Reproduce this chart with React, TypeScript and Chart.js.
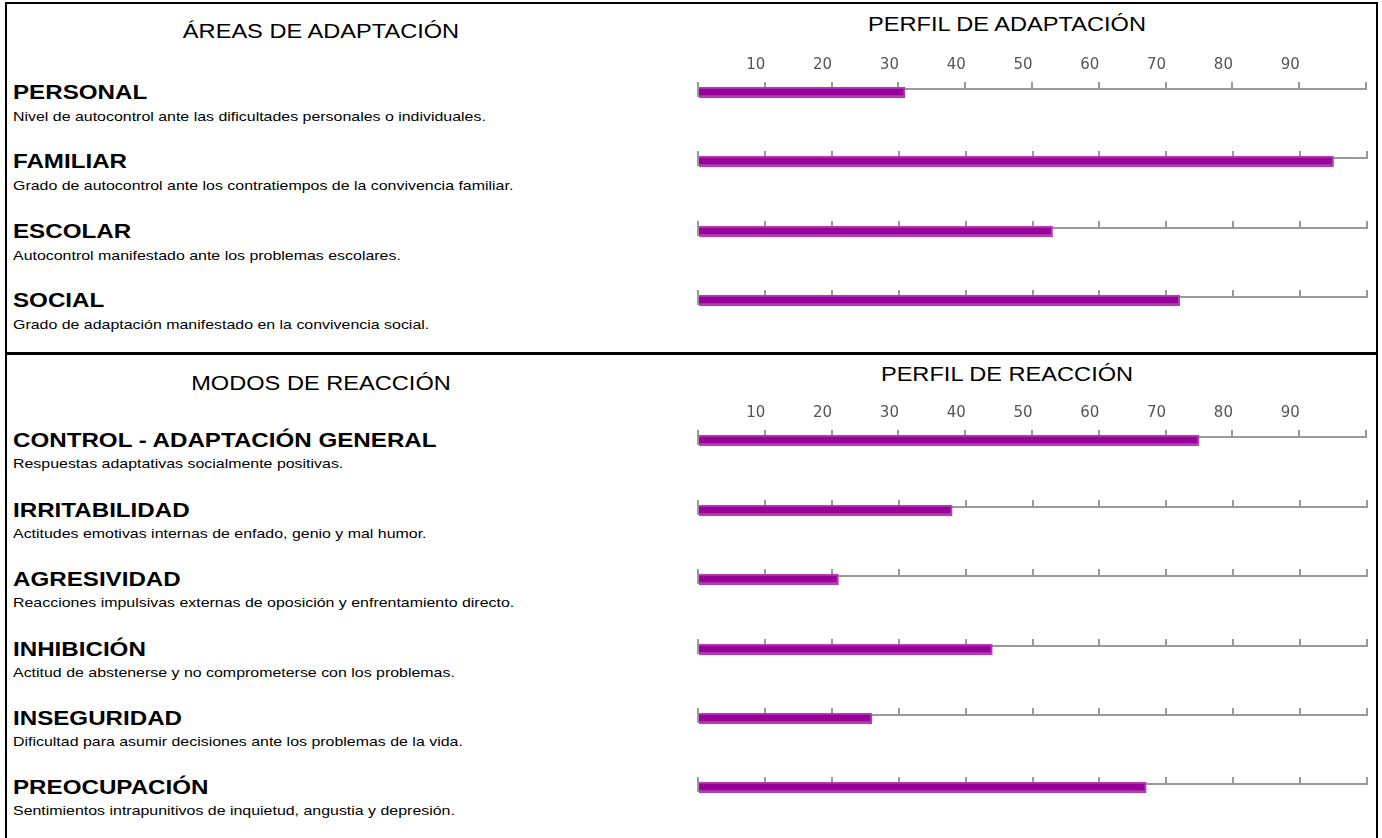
import React, { useEffect, useRef } from 'react';
import { Chart, registerables } from 'chart.js';

Chart.register(...registerables);

// ---------- data ----------
const adaptationTitle = 'ÁREAS DE ADAPTACIÓN';
const adaptationProfileTitle = 'PERFIL DE ADAPTACIÓN';
const adaptationAreas = ['PERSONAL', 'FAMILIAR', 'ESCOLAR', 'SOCIAL'];
const adaptationDescriptions = [
  'Nivel de autocontrol ante las dificultades personales o individuales.',
  'Grado de autocontrol ante los contratiempos de la convivencia familiar.',
  'Autocontrol manifestado ante los problemas escolares.',
  'Grado de adaptación manifestado en la convivencia social.',
];
const adaptationScores = [31, 95, 53, 72];

const reactionTitle = 'MODOS DE REACCIÓN';
const reactionProfileTitle = 'PERFIL DE REACCIÓN';
const reactionModes = [
  'CONTROL - ADAPTACIÓN GENERAL',
  'IRRITABILIDAD',
  'AGRESIVIDAD',
  'INHIBICIÓN',
  'INSEGURIDAD',
  'PREOCUPACIÓN',
];
const reactionDescriptions = [
  'Respuestas adaptativas socialmente positivas.',
  'Actitudes emotivas internas de enfado, genio y mal humor.',
  'Reacciones impulsivas externas de oposición y enfrentamiento directo.',
  'Actitud de abstenerse y no comprometerse con los problemas.',
  'Dificultad para asumir decisiones ante los problemas de la vida.',
  'Sentimientos intrapunitivos de inquietud, angustia y depresión.',
];
const reactionScores = [75, 38, 21, 44, 26, 67];

const scaleMin = 0;
const scaleMax = 100;
const scaleStep = 10;
const unlabeledTicks = [0, 100];

// ---------- layout ----------
const adaptationLines = [89, 158, 228, 297];
const reactionLines = [437, 507, 576, 646, 715, 784];

const CANVAS_LEFT = 688;
const CANVAS_W = 686;
const PAD_L = 10;
const PAD_R = 7;
const PAD_T = 2;
const PAD_B = 5;
const TICK_LEN = 7;
const AREA_H = 7;
const LABEL_AXIS_H = 40;

const FONT = '"Liberation Sans", Arial, Helvetica, sans-serif';

type TxtProps = {
  x: number;
  baseline: number;
  size: number;
  bold?: boolean;
  sx: number;
  center?: boolean;
  children: React.ReactNode;
};

function Txt({ x, baseline, size, bold, sx, center, children }: TxtProps) {
  const top = baseline - 0.8465 * size;
  return (
    <div
      style={{
        position: 'absolute',
        left: x,
        top,
        fontFamily: FONT,
        fontSize: size,
        lineHeight: `${size}px`,
        fontWeight: bold ? 700 : 400,
        whiteSpace: 'nowrap',
        color: '#000',
        transform: center ? `translateX(-50%) scaleX(${sx})` : `scaleX(${sx})`,
        transformOrigin: center ? 'center center' : 'left center',
      }}
    >
      {children}
    </div>
  );
}

type RowProps = { label: string; value: number; lineY: number; showTicks: boolean };

function RowChart({ label, value, lineY, showTicks }: RowProps) {
  const ref = useRef<HTMLCanvasElement>(null);
  const axisH = showTicks ? LABEL_AXIS_H : TICK_LEN;
  const height = PAD_T + axisH + AREA_H + PAD_B;
  const top = lineY - PAD_T - axisH;

  useEffect(() => {
    if (!ref.current) return;
    const chart = new Chart(ref.current, {
      type: 'bar',
      data: {
        labels: [label],
        datasets: [
          {
            data: [value],
            backgroundColor: '#990099',
            borderColor: '#b040b0',
            borderWidth: { top: 2, right: 2, bottom: 3, left: 0 },
            borderSkipped: 'start',
            barThickness: 11,
            clip: false,
          } as any,
        ],
      },
      options: {
        indexAxis: 'y',
        animation: false,
        responsive: false,
        devicePixelRatio: 1,
        events: [],
        layout: { padding: { left: PAD_L, right: PAD_R, top: PAD_T, bottom: PAD_B } },
        plugins: { legend: { display: false }, tooltip: { enabled: false }, title: { display: false } },
        scales: {
          x: {
            type: 'linear',
            position: 'top',
            min: scaleMin,
            max: scaleMax,
            ticks: {
              stepSize: scaleStep,
              display: showTicks,
              padding: 8,
              labelOffset: -9,
              color: '#555',
              autoSkip: false,
              maxRotation: 0,
              font: { family: '"DejaVu Sans"', size: 15 },
              callback: (v: any) => (unlabeledTicks.includes(Number(v)) ? '' : String(v)),
            },
            grid: {
              display: true,
              drawOnChartArea: false,
              drawTicks: true,
              tickLength: TICK_LEN,
              color: '#999',
              lineWidth: 2,
            },
            border: { display: true, color: '#999', width: 2 },
            afterFit: (s: any) => {
              s.height = axisH;
            },
          },
          y: {
            display: true,
            ticks: { display: false },
            grid: { display: false, drawTicks: false },
            border: { display: true, color: '#999', width: 2 },
          },
        },
      } as any,
    });
    return () => chart.destroy();
  }, [label, value, showTicks, axisH]);

  return (
    <canvas
      ref={ref}
      width={CANVAS_W}
      height={height}
      style={{ position: 'absolute', left: CANVAS_LEFT, top, width: CANVAS_W, height, display: 'block' }}
    />
  );
}

function Section({
  title,
  profileTitle,
  names,
  descriptions,
  scores,
  lines,
  titleBaseline,
  profileBaseline,
  descOffset,
}: {
  title: string;
  profileTitle: string;
  names: string[];
  descriptions: string[];
  scores: number[];
  lines: number[];
  titleBaseline: number;
  profileBaseline: number;
  descOffset: number;
}) {
  return (
    <>
      <Txt x={321} baseline={titleBaseline} size={20} sx={1.18} center>
        {title}
      </Txt>
      <Txt x={1007} baseline={profileBaseline} size={20} sx={1.18} center>
        {profileTitle}
      </Txt>
      {names.map((n, i) => (
        <React.Fragment key={n}>
          <Txt x={13} baseline={lines[i] + 9.5} size={21} bold sx={1.15}>
            {n}
          </Txt>
          <Txt x={13} baseline={lines[i] + descOffset} size={13.5} sx={1.18}>
            {descriptions[i]}
          </Txt>
          <RowChart label={n} value={scores[i]} lineY={lines[i]} showTicks={i === 0} />
        </React.Fragment>
      ))}
    </>
  );
}

export default function App() {
  return (
    <div
      style={{
        position: 'fixed',
        left: 0,
        top: 0,
        width: 1382,
        height: 838,
        overflow: 'hidden',
        background: '#fff',
      }}
    >
      <div
        style={{
          position: 'absolute',
          left: 5,
          top: 2,
          width: 1373,
          height: 900,
          boxSizing: 'border-box',
          borderLeft: '2px solid #000',
          borderRight: '2px solid #000',
          borderTop: '2px solid #000',
        }}
      />
      <div style={{ position: 'absolute', left: 5, top: 352, width: 1373, height: 3, background: '#000' }} />
      <Section
        title={adaptationTitle}
        profileTitle={adaptationProfileTitle}
        names={adaptationAreas}
        descriptions={adaptationDescriptions}
        scores={adaptationScores}
        lines={adaptationLines}
        titleBaseline={38}
        profileBaseline={31}
        descOffset={32.5}
      />
      <Section
        title={reactionTitle}
        profileTitle={reactionProfileTitle}
        names={reactionModes}
        descriptions={reactionDescriptions}
        scores={reactionScores}
        lines={reactionLines}
        titleBaseline={390}
        profileBaseline={381}
        descOffset={31.5}
      />
    </div>
  );
}
